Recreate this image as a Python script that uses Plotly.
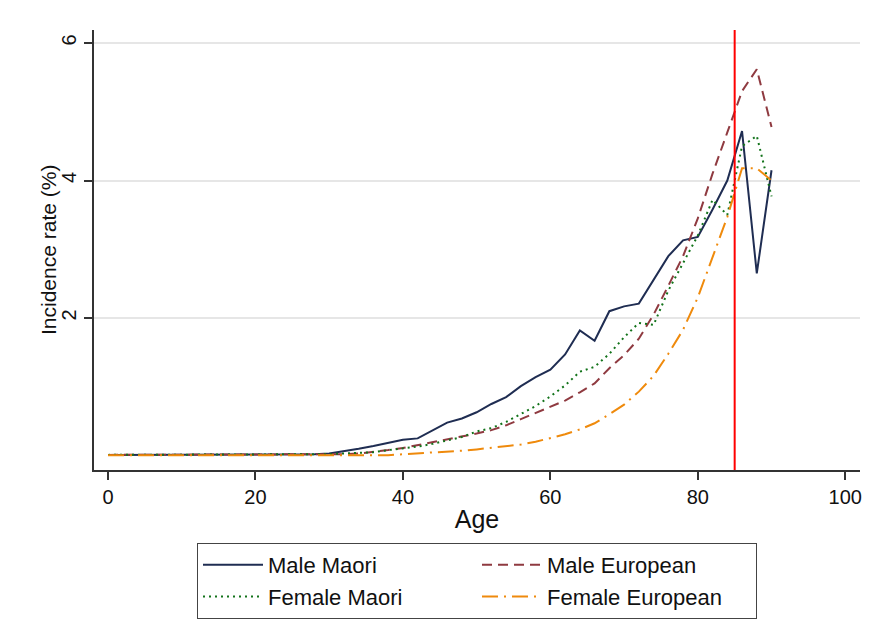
import plotly.graph_objects as go

ages = list(range(0, 92, 2))

male_maori = [0.01]*14 + [0.02,
    0.03, 0.06, 0.10, 0.14, 0.19, 0.23, 0.25, 0.37, 0.48, 0.54,
    0.63, 0.75, 0.85, 1.01, 1.14, 1.25, 1.47, 1.82, 1.67, 2.10,
    2.17, 2.21, 2.55, 2.90, 3.13, 3.18, 3.58, 4.00, 4.72, 2.65, 4.15]

male_european = [0.01]*15 + [
    0.01, 0.02, 0.03, 0.05, 0.08, 0.11, 0.15, 0.19, 0.23, 0.27,
    0.32, 0.37, 0.44, 0.53, 0.62, 0.71, 0.80, 0.92, 1.05, 1.27,
    1.46, 1.70, 2.05, 2.47, 2.90, 3.45, 4.10, 4.70, 5.30, 5.62, 4.78]

female_maori = [0.01]*15 + [
    0.02, 0.03, 0.04, 0.05, 0.08, 0.10, 0.13, 0.17, 0.22, 0.27,
    0.35, 0.40, 0.49, 0.60, 0.72, 0.86, 1.02, 1.22, 1.29, 1.48,
    1.72, 1.93, 1.90, 2.40, 2.80, 3.20, 3.72, 3.50, 4.50, 4.65, 3.77]

female_european = [0.005]*20 + [
    0.02, 0.03, 0.04, 0.05, 0.07, 0.09, 0.11, 0.13, 0.16, 0.20,
    0.25, 0.31, 0.38, 0.47, 0.60, 0.74, 0.93, 1.16, 1.48, 1.83,
    2.30, 2.88, 3.47, 4.18, 4.18, 4.00]

ref_age = 85
x_ticks = [0, 20, 40, 60, 80, 100]
y_ticks = [2, 4, 6]
y_title = "Incidence rate (%)"

series = [
    ("Male Maori", male_maori, "#1f2d52", "solid"),
    ("Male European", male_european, "#8f3a40", "10px,6px"),
    ("Female Maori", female_maori, "#12731a", "2px,4px"),
    ("Female European", female_european, "#ef8a0c", "16px,6px,2px,6px"),
]

fig = go.Figure()
for name, vals, col, dash in series:
    fig.add_trace(go.Scatter(x=ages, y=vals, mode="lines", name=name,
                             line=dict(color=col, width=2, dash=dash)))

fig.add_vline(x=ref_age, line=dict(color="#ff0000", width=2))

font = "Liberation Sans, Arial, sans-serif"
fig.add_annotation(text=y_title, xref="paper", yref="paper", x=0, y=0.5,
                   xanchor="center", yanchor="middle", xshift=-46, textangle=-90,
                   showarrow=False, font=dict(family=font, size=21, color="#111"))

fig.update_layout(
    width=874, height=642,
    margin=dict(l=94, r=14, t=30, b=172),
    plot_bgcolor="white", paper_bgcolor="white",
    font=dict(family=font, size=21, color="#111"),
    showlegend=True,
    legend=dict(orientation="h", x=0.5, xanchor="center", y=-0.166, yanchor="top",
                bordercolor="#444", borderwidth=1, entrywidth=204,
                font=dict(size=22), traceorder="normal", itemwidth=60),
    xaxis=dict(range=[-1.9, 102], tickvals=x_ticks, showgrid=False, zeroline=False,
               showline=True, linecolor="#333", linewidth=1.5, ticks="outside",
               ticklen=8, tickcolor="#333", tickwidth=1.5, tickfont=dict(size=20),
               title=dict(text="Age", standoff=4)),
    yaxis=dict(range=[-0.21, 6.19], tickvals=y_ticks, showgrid=True,
               gridcolor="#e6e6e6", gridwidth=2, zeroline=False,
               showline=True, linecolor="#333", linewidth=1.5, ticks="outside",
               ticklen=8, tickcolor="#333", tickwidth=1.5, tickangle=-90,
               tickfont=dict(size=20)),
)

fig.write_html("out.html")
